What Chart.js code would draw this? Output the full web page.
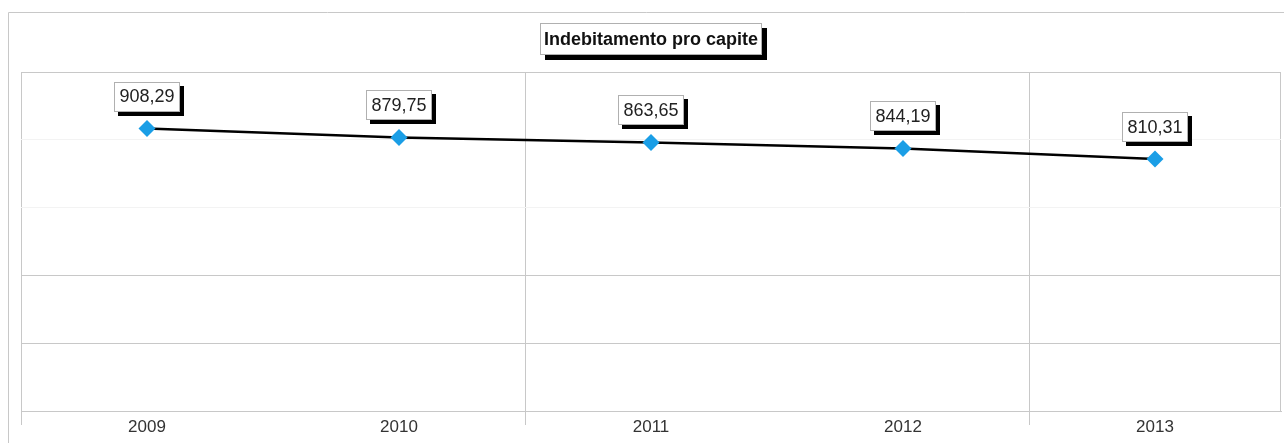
<!DOCTYPE html>
<html>
<head>
<meta charset="utf-8">
<script src="https://cdn.jsdelivr.net/npm/chart.js@4/dist/chart.umd.min.js"></script>
<style>
  html, body { margin: 0; padding: 0; background: #fff; }
  canvas { display: block; }
</style>
</head>
<body>
<canvas id="chart" width="1284" height="443"></canvas>
<script>
const titleText = "Indebitamento pro capite";
const years = ["2009", "2010", "2011", "2012", "2013"];
const debtPerCapita = [908.29, 879.75, 863.65, 844.19, 810.31];
const yTicks = [0, 218, 436, 654, 872, 1090];

const fmt = v => v.toFixed(2).replace(".", ",");

// box with a black drop shadow, like the original labels
function shadowBox(ctx, cx, cy, w, h, off) {
  const x = Math.round(cx - w / 2), y = Math.round(cy - h / 2);
  ctx.fillStyle = "#000";
  ctx.fillRect(x + off, y + off, w, h);
  ctx.fillStyle = "#fff";
  ctx.fillRect(x, y, w, h);
  ctx.strokeStyle = "#b0b0b0";
  ctx.lineWidth = 1;
  ctx.strokeRect(x + 0.5, y + 0.5, w - 1, h - 1);
}

const decorations = {
  id: "decorations",
  beforeDraw(chart) {
    const ctx = chart.ctx;
    const area = chart.chartArea;
    ctx.save();
    ctx.strokeStyle = "#c8c8c8";
    ctx.lineWidth = 1;
    ctx.beginPath();
    ctx.moveTo(8.5, chart.height);
    ctx.lineTo(8.5, 12.5);
    ctx.lineTo(chart.width, 12.5);
    // right edge of the plot
    const rx = Math.round(area.right) - 0.5;
    ctx.moveTo(rx, area.top);
    ctx.lineTo(rx, area.bottom);
    ctx.stroke();
    ctx.restore();
  },
  afterDatasetsDraw(chart) {
    const ctx = chart.ctx;
    const area = chart.chartArea;
    ctx.save();
    ctx.textAlign = "center";
    ctx.textBaseline = "middle";

    // title
    ctx.font = "bold 18px 'Liberation Sans', Arial, sans-serif";
    const tw = ctx.measureText(titleText).width;
    const tx = (area.left + area.right) / 2;
    shadowBox(ctx, tx, 39, Math.round(tw + 8), 32, 5);
    ctx.fillStyle = "#111";
    ctx.fillText(titleText, tx, 40);

    // value labels
    ctx.font = "18px 'Liberation Sans', Arial, sans-serif";
    chart.getDatasetMeta(0).data.forEach((pt, i) => {
      const txt = fmt(debtPerCapita[i]);
      const w = ctx.measureText(txt).width;
      const cy = pt.y - 32;
      shadowBox(ctx, pt.x, cy, Math.round(w + 11), 30, 4);
      ctx.fillStyle = "#222";
      ctx.fillText(txt, pt.x, cy + 1);
    });
    ctx.restore();
  }
};

new Chart(document.getElementById("chart"), {
  type: "line",
  data: {
    labels: years,
    datasets: [{
      data: debtPerCapita,
      borderColor: "#000",
      borderWidth: 2.5,
      pointStyle: "rectRot",
      pointRadius: 8.5,
      pointBackgroundColor: "#1a9ee6",
      pointBorderColor: "#1a9ee6",
      pointBorderWidth: 0,
      tension: 0,
    }],
  },
  options: {
    responsive: false,
    animation: false,
    layout: {
      autoPadding: false,
      padding: { left: 21, right: 3, top: 72, bottom: 0 },
    },
    plugins: {
      legend: { display: false },
      tooltip: { enabled: false },
    },
    scales: {
      x: {
        offset: true,
        afterFit: s => {
          s.height = 32;
          s.paddingLeft = 0;
          s.paddingRight = 0;
        },
        grid: {
          offset: true,
          tickLength: 14,
          // only every other category boundary has a line
          color: c => (c.index % 2 === 0) ? "#c8c8c8" : "rgba(0,0,0,0)",
          tickColor: c => (c.index % 2 === 0 && c.index < years.length) ? "#c8c8c8" : "rgba(0,0,0,0)",
        },
        border: { color: "#c8c8c8" },
        ticks: {
          padding: -8,
          color: "#333",
          font: { family: "'Liberation Sans', Arial, sans-serif", size: 17 },
        },
      },
      y: {
        min: yTicks[0],
        max: yTicks[yTicks.length - 1],
        afterFit: s => { s.width = 0; },
        afterBuildTicks: s => { s.ticks = yTicks.map(v => ({ value: v })); },
        ticks: { display: false },
        border: { display: false },
        grid: {
          drawTicks: false,
          color: c => (c.tick.value === 654 || c.tick.value === 872) ? "#f3f3f3" : "#c8c8c8",
        },
      },
    },
  },
  plugins: [decorations],
});
</script>
</body>
</html>
